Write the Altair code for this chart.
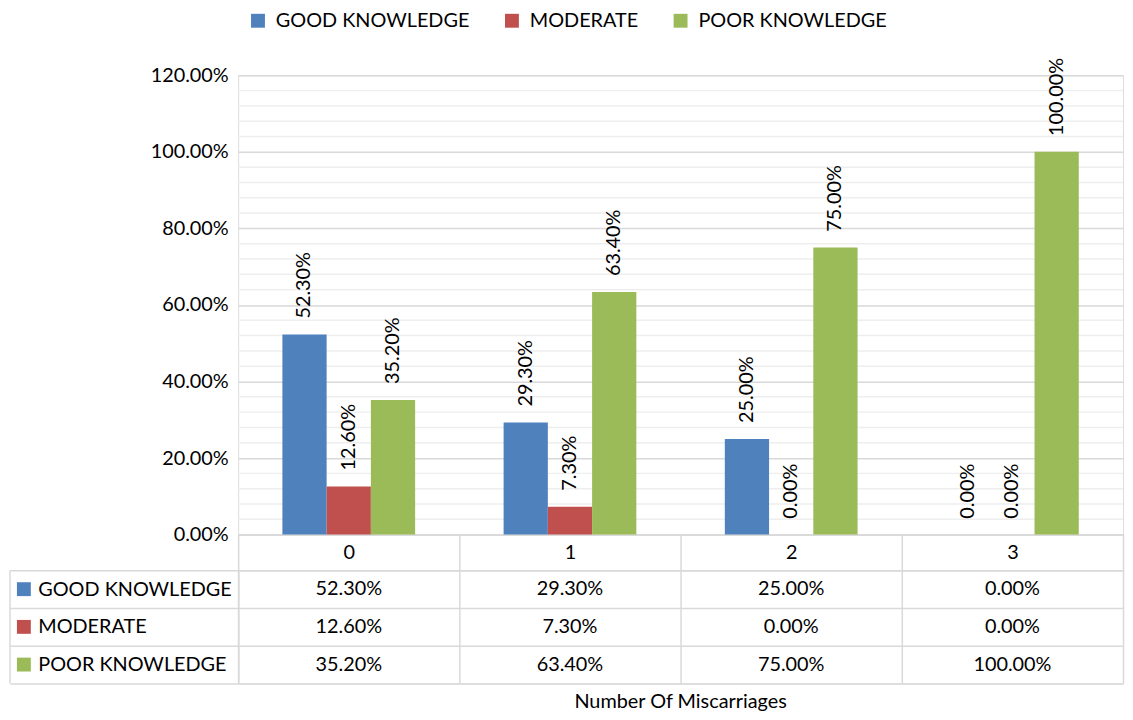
import altair as alt
import pandas as pd

categories = ["0", "1", "2", "3"]
series = ["GOOD KNOWLEDGE", "MODERATE", "POOR KNOWLEDGE"]
good = [0.523, 0.293, 0.25, 0.0]
moderate = [0.126, 0.073, 0.0, 0.0]
poor = [0.352, 0.634, 0.75, 1.0]
colors = ["#4F81BD", "#C0504D", "#9BBB59"]
y_ticks = [0, 0.2, 0.4, 0.6, 0.8, 1.0, 1.2]
minor_grid = [0.04, 0.08, 0.12, 0.16, 0.24, 0.28, 0.32, 0.36, 0.44, 0.48, 0.52, 0.56,
              0.64, 0.68, 0.72, 0.76, 0.84, 0.88, 0.92, 0.96, 1.04, 1.08, 1.12, 1.16]
x_title = "Number Of Miscarriages"

rows = []
for s, vals in zip(series, [good, moderate, poor]):
    for c, v in zip(categories, vals):
        rows.append({"cat": c, "series": s, "value": v})
df = pd.DataFrame(rows)

FONT = "Lato"
FS = 20
GRID = "#d9d9d9"
MINOR = "#eeeeee"

xscale = alt.Scale(domain=categories, paddingInner=0, paddingOuter=0)
yscale = alt.Scale(domain=[0, 1.2], nice=False)
color_scale = alt.Scale(domain=series, range=colors)
off_scale = alt.Scale(domain=series, paddingOuter=1, paddingInner=0)

yaxis = alt.Axis(values=y_ticks, format=".2%", title=None, ticks=False, domain=False,
                 labelFontSize=FS, labelFont=FONT, labelColor="black", labelPadding=10,
                 grid=True, gridColor=GRID, gridWidth=1.5)
xaxis = alt.Axis(labels=False, ticks=False, title=None, grid=False,
                 domainColor=GRID, domainWidth=1.5)

xenc = alt.X("cat:N", scale=xscale, sort=categories, axis=xaxis)
offenc = alt.XOffset("series:N", sort=series, scale=off_scale)
yenc = alt.Y("value:Q", scale=yscale, axis=yaxis)

minor = alt.Chart(pd.DataFrame({"value": minor_grid})).mark_rule(
    color=MINOR, strokeWidth=1.5
).encode(y=yenc)

bars = alt.Chart(df).mark_bar().encode(
    x=xenc,
    xOffset=offenc,
    y=yenc,
    color=alt.Color(
        "series:N", scale=color_scale, sort=series,
        legend=alt.Legend(title=None, orient="none", legendX=10, legendY=-65,
                          direction="horizontal", symbolType="square", symbolSize=196,
                          symbolStrokeWidth=0, symbolOpacity=1, labelFontSize=FS,
                          labelFont=FONT, labelColor="black", columnPadding=32,
                          labelOffset=8, labelLimit=400),
    ),
)

labels = alt.Chart(df).mark_text(
    angle=270, align="left", baseline="middle", dx=16,
    fontSize=FS, font=FONT, color="black"
).encode(
    x=xenc, xOffset=offenc, y=yenc,
    text=alt.Text("value:Q", format=".2%"),
)

top = alt.layer(minor, bars, labels).properties(width=892, height=463)

# ---- data table below the plot ----
row_scale = alt.Scale(domain=series, paddingInner=0, paddingOuter=0)
tbl_xaxis = alt.Axis(orient="top", title=None, tickBand="extent", tickSize=36,
                     tickColor=GRID, tickWidth=1.5, labelPadding=-18,
                     labelBaseline="middle", labelAngle=0, labelFontSize=FS,
                     labelFont=FONT, labelColor="black", grid=True,
                     gridColor=GRID, gridWidth=1.5, domainColor=GRID,
                     domainWidth=1.5)
tbl_yaxis = alt.Axis(title=None, tickBand="extent", tickSize=230, tickColor=GRID,
                     tickWidth=1.5, labelAlign="left", labelPadding=-28,
                     labelBaseline="middle", labelFontSize=FS, labelFont=FONT,
                     labelColor="black", labelLimit=400, labelOverlap=False,
                     grid=True, gridColor=GRID, gridWidth=1.5, domainColor=GRID,
                     domainWidth=1.5)
tbl_x = alt.X("cat:N", scale=xscale, sort=categories, axis=tbl_xaxis)
tbl_y = alt.Y("series:N", sort=series, scale=row_scale, axis=tbl_yaxis)

tbl_text = alt.Chart(df).mark_text(
    fontSize=FS, font=FONT, color="black", baseline="middle", align="center"
).encode(x=tbl_x, y=tbl_y, text=alt.Text("value:Q", format=".2%"))

swatch = alt.Chart(pd.DataFrame({"series": series})).mark_square(
    size=196, opacity=1
).encode(
    x=alt.value(-216),
    y=tbl_y,
    color=alt.Color("series:N", scale=color_scale, legend=None),
)

border = alt.Chart(pd.DataFrame({"k": [0]})).mark_rule(
    color=GRID, strokeWidth=1.5
).encode(x=alt.value(-230), y=alt.value(0), y2=alt.value(114))

table = alt.layer(tbl_text, swatch, border).properties(
    width=892, height=114,
    title=alt.TitleParams(x_title, orient="bottom", anchor="middle", frame="group",
                          fontSize=FS, font=FONT, fontWeight="normal", color="black",
                          offset=8),
)

chart = alt.vconcat(top, table, spacing=36, bounds="flush").properties(
    padding=0
).configure_view(stroke=None, strokeWidth=0).configure(font=FONT)

chart.save("out.html", embed_options={"renderer": "svg", "actions": False})
